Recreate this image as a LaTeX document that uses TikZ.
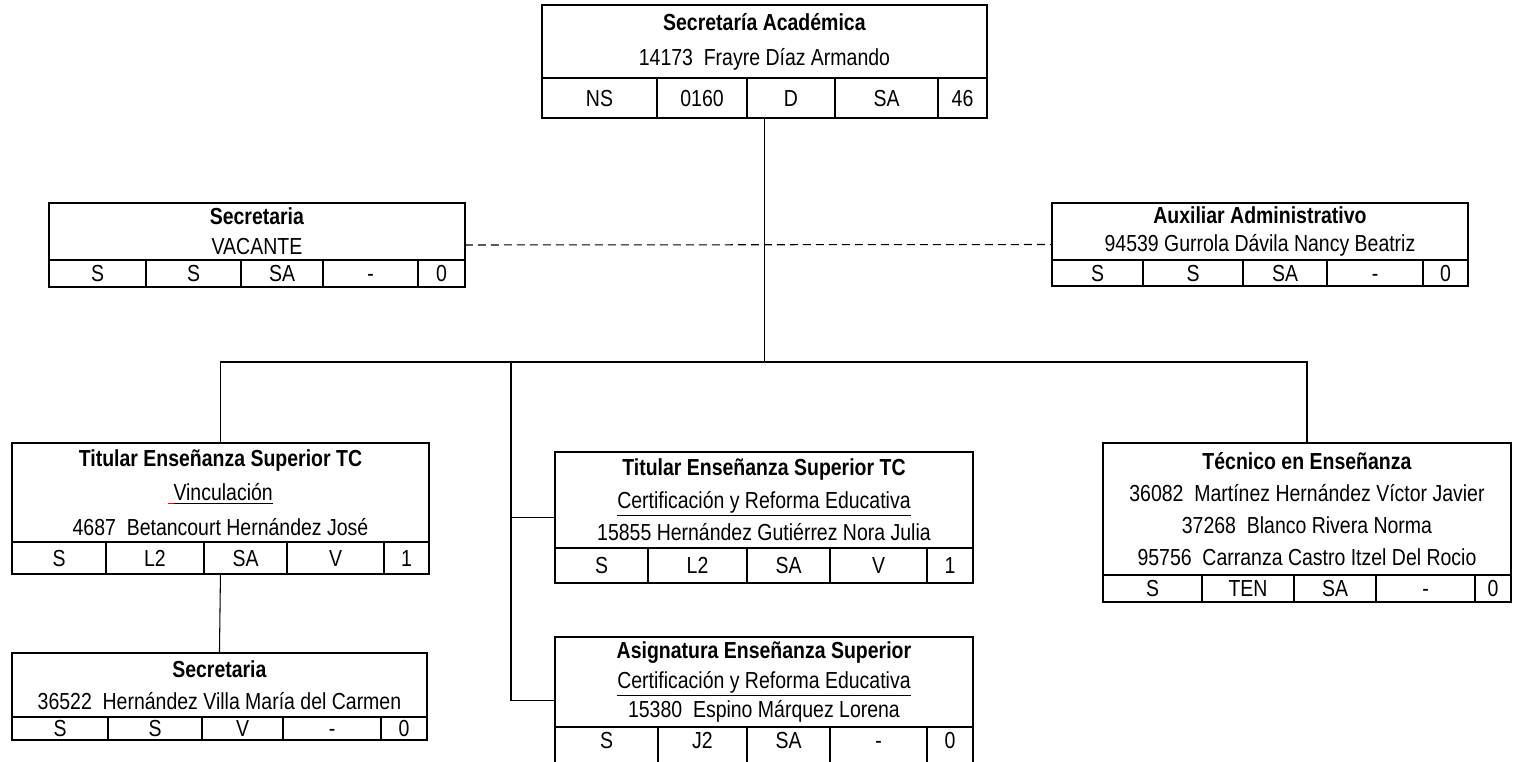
\documentclass[tikz,border=0pt]{standalone}
\usepackage{fontspec}
\setmainfont{Liberation Sans}[FakeStretch=0.84]
\usetikzlibrary{calc}

\begin{document}
\begin{tikzpicture}[x=0.02cm, y=-0.02cm,
      post/.style={draw, line width=1.1pt, inner sep=0pt, outer sep=0pt, anchor=north west, align=center},
      lead/.style={font=\fontsize{13.2}{#1}\selectfont},
      cell/.style={draw, line width=1pt, inner sep=0pt, outer sep=0pt, anchor=north west,
      font=\fontsize{13.2}{15}\selectfont, text height=0.33cm, text depth=0pt},
      link/.style={line width=0.6pt}
    ]
    \useasboundingbox (0,0) rectangle (1513,761);

    % Secretaria Academica
    \node[post, lead=20pt, minimum width=8.9cm, minimum height=1.46cm] (acad) at (542,5)
      {\textbf{Secretaría Académica}\\14173~~Frayre Díaz Armando};
    \foreach \xa/\xb/\txt [count=\i] in {542/657/NS, 657/747/0160, 747/835/D, 835/938/SA, 938/987/46}
      \node[cell, minimum width={(\xb-\xa)*0.02cm}, minimum height=0.8cm] (acad-\i) at (\xa,78) {\txt};

    % Secretaria (vacante) and Auxiliar
    \node[post, lead=17pt, minimum width=8.32cm, minimum height=1.14cm] (secl) at (49,203)
      {\textbf{Secretaria}\\VACANTE};
    \foreach \xa/\xb/\txt [count=\i] in {49/146/S, 146/241/S, 241/323/SA, 323/418/-, 418/465/0}
      \node[cell, minimum width={(\xb-\xa)*0.02cm}, minimum height=0.54cm] (secl-\i) at (\xa,260) {\txt};

    \node[post, lead=16pt, minimum width=8.32cm, minimum height=1.14cm] (aux) at (1052,203)
      {\textbf{Auxiliar Administrativo}\\94539 Gurrola Dávila Nancy Beatriz};
    \foreach \xa/\xb/\txt [count=\i] in {1052/1143/S, 1143/1243/S, 1243/1327/SA, 1327/1423/-, 1423/1468/0}
      \node[cell, minimum width={(\xb-\xa)*0.02cm}, minimum height=0.52cm] (aux-\i) at (\xa,260) {\txt};

    % Titular - Vinculacion
    \node[post, lead=19.6pt, minimum width=8.34cm, minimum height=1.98cm] (titl) at (12,443)
      {\textbf{Titular Enseñanza Superior TC}\\{\color{red}\underline{\ }}\underline{Vinculación}\\4687~~Betancourt Hernández José};
    \foreach \xa/\xb/\txt [count=\i] in {12/106/S, 106/204/L2, 204/287/SA, 287/384/V, 384/429/1}
      \node[cell, minimum width={(\xb-\xa)*0.02cm}, minimum height=0.64cm] (titl-\i) at (\xa,542) {\txt};

    \node[post, lead=18pt, minimum width=8.3cm, minimum height=1.28cm] (secb) at (12,653)
      {\textbf{Secretaria}\\36522~~Hernández Villa María del Carmen};
    \foreach \xa/\xb/\txt [count=\i] in {12/108/S, 108/202/S, 202/283/V, 283/381/-, 381/427/0}
      \node[cell, minimum width={(\xb-\xa)*0.02cm}, minimum height=0.46cm] (secb-\i) at (\xa,717) {\txt};

    % Certificacion y Reforma Educativa
    \node[post, lead=18.4pt, minimum width=8.36cm, minimum height=1.92cm] (titm) at (555,452)
      {\textbf{Titular Enseñanza Superior TC}\\\underline{Certificación y Reforma Educativa}\\15855 Hernández Gutiérrez Nora Julia};
    \foreach \xa/\xb/\txt [count=\i] in {555/648/S, 648/747/L2, 747/830/SA, 830/927/V, 927/973/1}
      \node[cell, minimum width={(\xb-\xa)*0.02cm}, minimum height=0.7cm] (titm-\i) at (\xa,548) {\txt};

    \node[post, lead=16.8pt, minimum width=8.36cm, minimum height=1.8cm] (asig) at (555,637)
      {\textbf{Asignatura Enseñanza Superior}\\\underline{Certificación y Reforma Educativa}\\15380~~Espino Márquez Lorena};
    \foreach \xa/\xb/\txt [count=\i] in {555/658/S, 658/747/J2, 747/830/SA, 830/927/-, 927/973/0}
      \node[cell, minimum width={(\xb-\xa)*0.02cm}, minimum height=0.74cm, text depth=0.2cm] (asig-\i) at (\xa,727) {\txt};

    % Tecnico en Ensenanza
    \node[post, lead=18.2pt, minimum width=8.16cm, minimum height=2.64cm] (tec) at (1103,443)
      {\textbf{Técnico en Enseñanza}\\36082~~Martínez Hernández Víctor Javier\\37268~~Blanco Rivera Norma\\95756~~Carranza Castro Itzel Del Rocio};
    \foreach \xa/\xb/\txt [count=\i] in {1103/1202/S, 1202/1294/TEN, 1294/1376/SA, 1376/1475/-, 1475/1511/0}
      \node[cell, minimum width={(\xb-\xa)*0.02cm}, minimum height=0.54cm] (tec-\i) at (\xa,575) {\txt};

    % connectors
    \coordinate (hub) at (acad.south |- 0,362);
    \coordinate (fork) at (511,362);
    \draw[link] (acad-1.south -| acad.south) -- (hub);
    \draw[link] (titl.north) -- (titl.north |- hub) -- (tec.north |- hub) -- (tec.north);
    \draw[link] (fork) |- ($(asig.north west)!0.5!(asig-1.south west)$);
    \draw[link] ($(titm.north west)!0.5!(titm-1.south west)$) -| (fork);
    \draw[link] (titl-1.south -| titl.south) -- (secb.north);
    \draw[link, dash pattern=on 0.16cm off 0.1cm] ($(secl.north east)!0.5!(secl-5.south east)$)
      -- ($(aux.north west)!0.5!(aux-1.south west)$);
  \end{tikzpicture}
\end{document}
